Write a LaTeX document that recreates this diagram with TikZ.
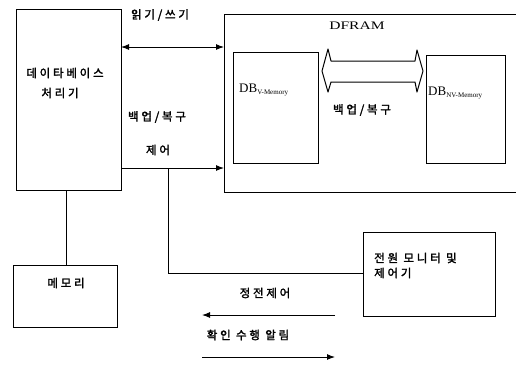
\documentclass[tikz,border=0pt]{standalone}
\usepackage{fontspec}
\usepackage{graphicx}
\setmainfont{Liberation Serif}
\newfontfamily\kr{Noto Sans CJK KR}[LetterSpace=24,FakeBold=2]
\usetikzlibrary{arrows.meta}
\tikzset{
  box/.style={draw, line width=1pt, anchor=north west, inner sep=0pt},
  conn/.style={line width=1pt},
  arr/.style={line width=1pt, -{Latex[length=8pt,width=6pt]}},
  dblarr/.style={line width=1pt, {Latex[length=8pt,width=6pt]}-{Latex[length=8pt,width=6pt]}},
  krlab/.style={font=\kr\fontsize{11.5}{14}\selectfont, inner sep=0pt},
  enlab/.style={font=\fontsize{13}{15}\selectfont, inner sep=0pt},
}
\begin{document}
\begin{tikzpicture}[x=1pt,y=-1pt]
\useasboundingbox (0,0) rectangle (516,364);
% boxes
\node[box, minimum width=105pt, minimum height=181pt] (proc) at (16,9) {};
\node[box, minimum width=104pt, minimum height=62pt] (mem) at (13,265) {};
\node[box, minimum width=295pt, minimum height=178pt] (dfram) at (224,14) {};
\node[box, minimum width=85pt, minimum height=111pt] (dbv) at (233,52) {};
\node[box, minimum width=79pt, minimum height=108pt] (dbnv) at (426,55) {};
\node[box, minimum width=132pt, minimum height=84pt] (power) at (363,232) {};
% coordinates for connectors
\coordinate (rwL) at (121,47);
\coordinate (rwR) at (224,47);
\coordinate (bkL) at (121,168);
\coordinate (bkR) at (224,168);
\coordinate (tap) at (168,168);
\coordinate (bend) at (168,273);
\coordinate (pwIn) at (363,273);
\coordinate (procB) at (66,190);
\coordinate (memT) at (66,265);
\coordinate (a1s) at (335,315);
\coordinate (a1e) at (202,315);
\coordinate (a2s) at (202,357);
\coordinate (a2e) at (335,357);
% connectors
\draw[dblarr] (rwL) -- (rwR);
\draw[arr] (bkL) -- (bkR);
\draw[conn] (tap) -- (bend) -- (pwIn);
\draw[conn] (procB) -- (memT);
\draw[arr] (a1s) -- (a1e);
\draw[arr] (a2s) -- (a2e);
% big outlined double arrow
\draw[line width=1pt, line join=round] (322,71) -- (328,49) -- (331,61) -- (415,61) -- (417,50) -- (423,71) -- (417,92) -- (415,82) -- (331,82) -- (328,92) -- cycle;
% labels
\node[krlab] (t1) at (160,15) {읽기/쓰기};
\node[font=\fontsize{11.5}{14}\selectfont, inner sep=0pt] (t2) at (357,26) {\scalebox{1.35}[1]{DFRAM}};
\node[krlab] (t3) at (65,73) {데이타베이스};
\node[krlab] (t4) at (60,93) {처리기};
\node[krlab] (t5) at (157,117) {백업/복구};
\node[krlab] (t6) at (158,150) {제어};
\node[krlab] (t7) at (362,110) {백업/복구};
\node[enlab, anchor=west] (t8) at (239,90) {DB\textsubscript{\fontsize{7}{8}\selectfont V-Memory}};
\node[enlab, anchor=west] (t9) at (428,93) {DB\textsubscript{\fontsize{7}{8}\selectfont NV-Memory}};
\node[krlab] (t10) at (66,283) {메모리};
\node[krlab, anchor=west] (t11) at (374,258) {전원 모니터 및};
\node[krlab, anchor=west] (t12) at (374,273) {제어기};
\node[krlab] (t13) at (265,293) {정전제어};
\node[krlab] (t14) at (248,335) {확인 수행 알림};
\end{tikzpicture}
\end{document}
